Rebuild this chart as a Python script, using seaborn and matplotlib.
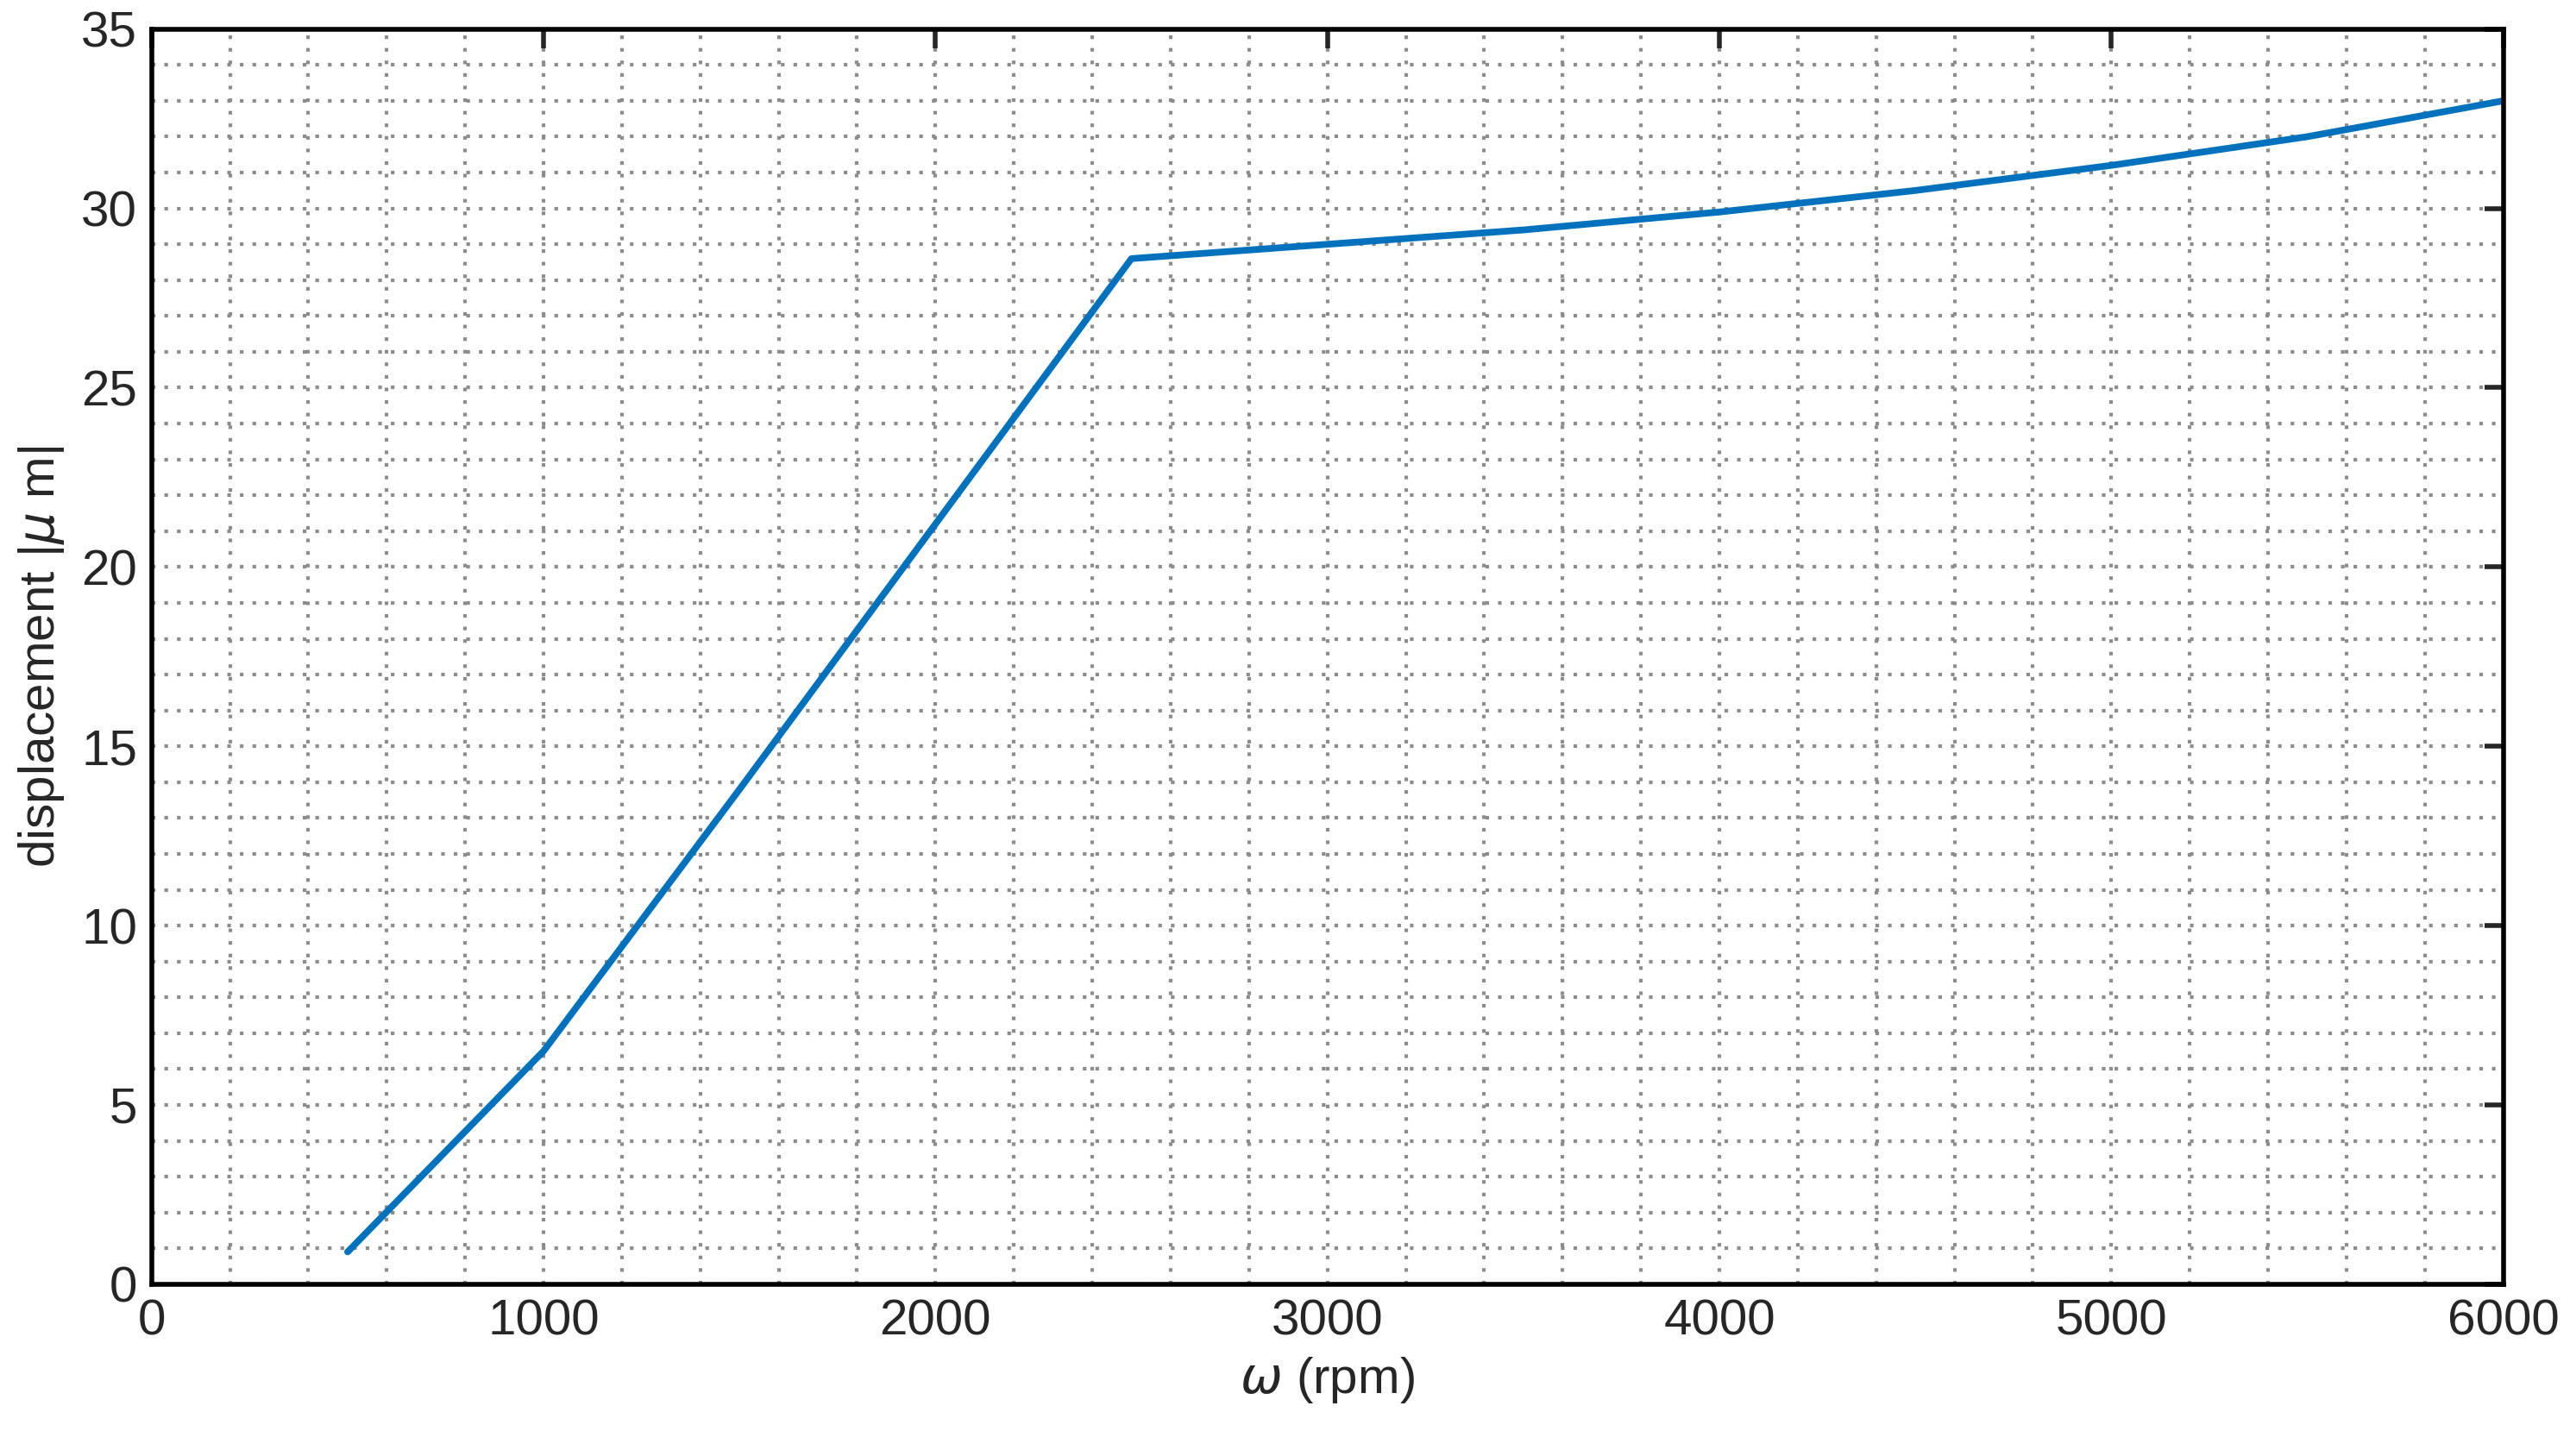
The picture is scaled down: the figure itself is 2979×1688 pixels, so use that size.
import matplotlib
matplotlib.use("Agg")
import matplotlib.pyplot as plt
import pandas as pd
import seaborn as sns
from matplotlib.ticker import MultipleLocator

speed_rpm = [500, 1000, 1500, 2000, 2500, 3000, 3500, 4000, 4500, 5000, 5500, 6000]
displacement_um = [0.9, 6.5, 13.8, 21.2, 28.6, 29.0, 29.4, 29.9, 30.5, 31.2, 32.0, 33.0]

df = pd.DataFrame({"rpm": speed_rpm, "disp": displacement_um})

sns.set_style("white")
plt.rcParams["font.family"] = ["Arial", "Liberation Sans", "DejaVu Sans"]

fig = plt.figure(figsize=(14.895, 8.44), dpi=200)
ax = fig.add_axes([0.059, 0.118, 0.915, 0.862])
sns.lineplot(data=df, x="rpm", y="disp", ax=ax, color="#0072BD", linewidth=2.8)

ax.set_xlim(0, 6000)
ax.set_ylim(0, 35)
ax.xaxis.set_major_locator(MultipleLocator(1000))
ax.xaxis.set_minor_locator(MultipleLocator(200))
ax.yaxis.set_major_locator(MultipleLocator(5))
ax.yaxis.set_minor_locator(MultipleLocator(1))
ax.grid(True, which="both", linestyle=(0, (1, 2.5)), color="#8c8c8c", linewidth=1.5)
ax.tick_params(which="major", direction="in", length=8, width=2, top=True, right=True,
               labelsize=21, pad=6)
ax.tick_params(which="minor", length=0)
for s in ax.spines.values():
    s.set_linewidth(2)
    s.set_color("black")

ax.set_xlabel(r"$\omega$ (rpm)", fontsize=21, labelpad=4)
ax.set_ylabel(r"displacement |$\mu$ m|", fontsize=21, labelpad=6)

fig.savefig("out.png", dpi=200)
